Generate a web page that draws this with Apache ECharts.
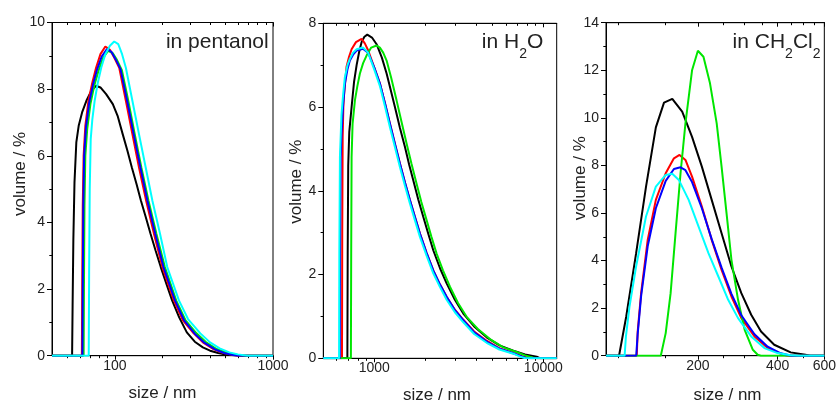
<!DOCTYPE html>
<html><head><meta charset="utf-8">
<script src="https://cdn.jsdelivr.net/npm/echarts@6/dist/echarts.min.js"></script>
<style>html,body{margin:0;padding:0;background:#fff}#c{width:839px;height:403px}</style>
</head><body><div id="c"></div><script>
// ---------- Panel 1: in pentanol ----------
const P1_X_MAJOR = [100, 1000];
const P1_X_MINOR = [50, 60, 70, 80, 90, 200, 300, 400, 500, 600, 700, 800, 900];
const P1_BLACK = [[40,0],[53.6,0],[54,1.5],[54.6,3.5],[55.5,5.2],[57,6.4],[59,6.9],[62,7.3],[66,7.65],[71,7.95],[76,8.1],[81,8.05],[88,7.85],[97,7.55],[104,7.2],[112,6.65],[120,6.15],[128,5.65],[137,5.15],[146,4.66],[157,4.15],[168,3.66],[181,3.15],[195,2.66],[212,2.15],[230,1.66],[255,1.15],[285,0.7],[320,0.42],[360,0.25],[400,0.15],[450,0.08],[510,0.03],[580,0.01],[620,0],[1000,0]];
const P1_RED = [[40,0],[61.8,0],[62.1,2],[62.6,4.5],[63.4,6.0],[65,6.9],[68,7.65],[72,8.2],[76,8.64],[81,9.05],[87,9.28],[93,9.18],[99,8.95],[106.5,8.64],[117.3,7.65],[129,6.65],[142,5.65],[157.5,4.66],[176.6,3.66],[199.6,2.66],[236,1.66],[270,1.05],[315,0.67],[360,0.4],[420,0.2],[480,0.09],[550,0.03],[600,0],[1000,0]];
const P1_GREEN = [[40,0],[63.4,0],[63.7,2],[64.2,4.5],[65,6.0],[66.8,6.8],[70,7.55],[74,8.1],[78.5,8.53],[84,8.93],[90.5,9.15],[97,9.08],[103,8.88],[110.5,8.58],[121.5,7.65],[133.5,6.65],[147,5.65],[163,4.66],[183,3.66],[207,2.66],[244,1.66],[280,1.06],[327,0.68],[376,0.41],[440,0.2],[510,0.09],[590,0.03],[650,0],[1000,0]];
const P1_BLUE = [[40,0],[62.3,0],[62.6,2],[63.1,4.5],[63.9,6.0],[65.6,6.85],[68.8,7.6],[72.8,8.15],[77,8.58],[82.5,8.98],[89,9.2],[95,9.12],[101,8.9],[108.5,8.6],[119.5,7.65],[131.5,6.65],[145,5.65],[160.5,4.66],[180,3.66],[203,2.66],[240,1.66],[275,1.05],[320,0.66],[368,0.39],[430,0.19],[490,0.08],[560,0.02],[600,0],[1000,0]];
const P1_CYAN = [[40,0],[68.3,0],[68.7,2.5],[69.3,5.0],[70.3,6.5],[72,7.1],[74.5,7.66],[78,8.2],[82,8.65],[87,9.05],[93,9.3],[99,9.43],[105,9.35],[111,9.05],[117.3,8.64],[129,7.65],[142,6.65],[156.6,5.65],[172.5,4.66],[192.9,3.66],[214.3,2.66],[254,1.66],[290,1.1],[347,0.67],[400,0.4],[460,0.22],[530,0.1],[600,0.04],[690,0],[1000,0]];

// ---------- Panel 2: in H2O ----------
const P2_X_MAJOR = [1000, 10000];
const P2_X_MINOR = [600, 700, 800, 900, 2000, 3000, 4000, 5000, 6000, 7000, 8000, 9000];
const P2_BLACK = [[500,0],[694,0],[697,2.5],[702,4.6],[712,5.4],[735,6.0],[760,6.6],[787,7.0],[815,7.32],[842,7.55],[875,7.68],[910,7.73],[970,7.66],[1033,7.5],[1110,7.18],[1184,6.8],[1250,6.42],[1326,6.0],[1420,5.5],[1519,5.05],[1610,4.62],[1702,4.25],[1820,3.8],[1950,3.38],[2090,2.97],[2235,2.58],[2450,2.15],[2681,1.79],[3000,1.4],[3364,1.07],[3900,0.76],[4622,0.5],[5500,0.31],[6646,0.18],[7800,0.09],[9138,0.04],[9600,0],[12000,0]];
const P2_RED = [[500,0],[645,0],[647,3],[651,5.3],[657,6.0],[662,6.24],[686,6.96],[710,7.2],[735,7.38],[780,7.55],[842,7.63],[880,7.52],[922,7.35],[1000,6.95],[1081,6.56],[1160,6.08],[1239,5.6],[1330,5.1],[1419,4.65],[1520,4.2],[1626,3.78],[1740,3.38],[1864,2.98],[2040,2.52],[2235,2.1],[2450,1.76],[2681,1.47],[3000,1.16],[3364,0.92],[3900,0.64],[4622,0.42],[5500,0.24],[6646,0.12],[7500,0.05],[8200,0.01],[8500,0],[12000,0]];
const P2_GREEN = [[500,0],[728,0],[731,2.5],[735,4.8],[745,5.6],[769,6.16],[795,6.5],[823,6.8],[860,7.05],[901,7.23],[960,7.42],[1033,7.47],[1080,7.42],[1130,7.3],[1184,7.11],[1260,6.7],[1356,6.16],[1450,5.65],[1554,5.13],[1660,4.65],[1781,4.17],[1900,3.73],[2041,3.3],[2180,2.9],[2339,2.5],[2550,2.1],[2805,1.71],[3130,1.32],[3520,0.99],[4100,0.7],[4837,0.46],[5800,0.26],[6957,0.15],[7800,0.07],[8600,0.02],[9000,0],[12000,0]];
const P2_BLUE = [[500,0],[626,0],[628,2.5],[633,4.8],[641,5.37],[655,6.05],[671,6.56],[695,6.9],[718,7.11],[750,7.25],[787,7.35],[861,7.39],[920,7.3],[1000,6.95],[1081,6.56],[1160,6.08],[1239,5.6],[1330,5.1],[1419,4.65],[1520,4.2],[1626,3.78],[1740,3.38],[1864,2.98],[2040,2.52],[2235,2.1],[2450,1.76],[2681,1.47],[3000,1.15],[3364,0.91],[3900,0.62],[4622,0.4],[5500,0.23],[6646,0.12],[7500,0.04],[8000,0],[12000,0]];
const P2_CYAN = [[500,0],[620,0],[622,2.5],[627,4.8],[640,5.8],[655,6.3],[670,6.7],[695,7.0],[718,7.15],[750,7.3],[787,7.38],[861,7.42],[920,7.3],[1000,6.9],[1081,6.5],[1160,6.0],[1239,5.52],[1330,5.02],[1419,4.57],[1520,4.12],[1626,3.7],[1740,3.3],[1864,2.9],[2040,2.45],[2235,2.03],[2450,1.7],[2681,1.4],[3000,1.1],[3364,0.86],[3900,0.58],[4622,0.37],[5500,0.21],[6646,0.11],[7300,0.04],[7800,0],[12000,0]];

// ---------- Panel 3: in CH2Cl2 ----------
const P3_X_MAJOR = [200, 400, 600];
const P3_X_MINOR = [100, 150, 250, 300, 500];
const P3_X_MINOR_TOP = [100, 150, 250, 300, 350, 450, 500, 550];
const P3_BLACK = [[90,0],[100.8,0],[107.3,1.65],[116.9,4.3],[127.4,7.1],[138.8,9.6],[149,10.64],[160.1,10.8],[174.5,10.26],[190.1,9.2],[207,7.95],[225.5,6.55],[245.7,5.15],[267.7,3.75],[291.7,2.63],[317.8,1.72],[346.2,1.02],[388.2,0.46],[447.8,0.14],[509.3,0.04],[530,0],[600,0]];
const P3_RED = [[90,0],[117.6,0],[118.5,1.0],[122.1,2.63],[129.3,4.87],[138.8,6.55],[151.2,7.67],[162.4,8.3],[170.5,8.44],[179.5,8.23],[190.1,7.53],[207,6.27],[225.5,4.87],[245.7,3.61],[267.7,2.49],[291.7,1.58],[327,0.81],[366.7,0.32],[411,0.08],[435,0],[600,0]];
const P3_GREEN = [[90,0],[144.9,0],[151.2,0.95],[157.8,2.63],[164.7,5.15],[172,7.67],[179.5,9.77],[190.1,12.0],[200,12.82],[209.9,12.57],[222.2,11.45],[235.5,9.77],[245.7,7.95],[256.5,5.99],[267.7,4.03],[283.5,2.35],[300.3,1.09],[322.4,0.25],[336.3,0.04],[346,0],[600,0]];
const P3_BLUE = [[90,0],[117,0],[118.5,0.9],[122.1,2.5],[129.3,4.6],[138.8,6.2],[151.2,7.35],[162.4,7.85],[172,7.92],[179.5,7.8],[190.1,7.3],[207,6.2],[225.5,4.9],[245.7,3.7],[267.7,2.6],[291.7,1.7],[327,0.9],[366.7,0.38],[411,0.1],[450,0],[600,0]];
const P3_CYAN = [[90,0],[105.8,0],[107,0.8],[110.4,2.07],[116.9,3.75],[127.4,5.85],[138.8,7.11],[151.2,7.6],[160.1,7.65],[169.5,7.39],[184.6,6.55],[201.2,5.43],[219.2,4.31],[238.9,3.33],[260.2,2.35],[283.5,1.58],[317.8,0.81],[356.4,0.32],[399.5,0.11],[447.8,0.02],[480,0],[600,0]];

const FONT = '"Liberation Sans", Arial, sans-serif';
const TXT = '#222222';
const COLORS = ['#000000', '#ff0000', '#00e600', '#0000ff', '#00ffff'];

const panels = [
  {grid: {left: 52, top: 22.5, width: 221, height: 333.2}, xMin: 40, xMax: 1000, yMax: 10,
   xMajor: P1_X_MAJOR, xMinor: P1_X_MINOR, xMinorTop: P1_X_MINOR,
   series: [P1_BLACK, P1_RED, P1_GREEN, P1_BLUE, P1_CYAN]},
  {grid: {left: 323.3, top: 23.3, width: 233.4, height: 335}, xMin: 500, xMax: 12000, yMax: 8,
   xMajor: P2_X_MAJOR, xMinor: P2_X_MINOR, xMinorTop: P2_X_MINOR,
   series: [P2_BLACK, P2_RED, P2_GREEN, P2_BLUE, P2_CYAN]},
  {grid: {left: 606, top: 22.7, width: 221.5, height: 333}, xMin: 90, xMax: 600, yMax: 14,
   xMajor: P3_X_MAJOR, xMinor: P3_X_MINOR, xMinorTop: P3_X_MINOR_TOP,
   series: [P3_BLACK, P3_RED, P3_GREEN, P3_BLUE, P3_CYAN]}
];

const option = {animation: false, backgroundColor: '#ffffff', grid: [], xAxis: [], yAxis: [], series: [], graphic: []};
const line = {color: '#000', width: 1};
panels.forEach((p, i) => {
  option.grid.push(Object.assign({show: true, borderColor: '#000', borderWidth: 1, backgroundColor: 'transparent'}, p.grid));
  const base = () => ({type: 'log', logBase: 10, min: p.xMin, max: p.xMax, gridIndex: i,
    splitLine: {show: false}, axisLine: {show: true, onZero: false, lineStyle: line}});
  option.xAxis.push(Object.assign(base(), {position: 'bottom',
    axisTick: {show: true, length: 4, inside: false, customValues: p.xMajor, lineStyle: line},
    axisLabel: {show: true, customValues: p.xMajor, formatter: v => String(Math.round(v)),
      fontSize: 14, color: TXT, fontFamily: FONT, margin: 3}}));
  option.xAxis.push(Object.assign(base(), {position: 'bottom',
    axisTick: {show: true, length: 2.5, inside: false, customValues: p.xMinor, lineStyle: line},
    axisLabel: {show: false}}));
  option.xAxis.push(Object.assign(base(), {position: 'top',
    axisTick: {show: true, length: 4, inside: true, customValues: p.xMajor, lineStyle: line},
    axisLabel: {show: false}}));
  option.xAxis.push(Object.assign(base(), {position: 'top',
    axisTick: {show: true, length: 2.5, inside: true, customValues: p.xMinorTop, lineStyle: line},
    axisLabel: {show: false}}));
  option.yAxis.push({type: 'value', gridIndex: i, min: 0, max: p.yMax, interval: 2, position: 'left',
    axisLine: {show: true, onZero: false, lineStyle: line},
    axisTick: {show: true, length: 5, inside: false, lineStyle: line},
    minorTick: {show: true, splitNumber: 2, length: 2.7, lineStyle: line},
    splitLine: {show: false}, minorSplitLine: {show: false},
    axisLabel: {fontSize: 14, color: TXT, fontFamily: FONT, margin: 7}});
  p.series.forEach((d, k) => {
    option.series.push({type: 'line', xAxisIndex: i * 4, yAxisIndex: i, data: d,
      showSymbol: false, symbol: 'none', smooth: false, clip: true, z: 2 + k,
      lineStyle: {color: COLORS[k], width: 2}, itemStyle: {color: COLORS[k]}});
  });
});

const titleFont = '21px ' + FONT;
const rich = {
  a: {fontSize: 21, lineHeight: 22, fontFamily: FONT, color: TXT, verticalAlign: 'top'},
  s: {fontSize: 14, lineHeight: 14, fontFamily: FONT, color: TXT, verticalAlign: 'top', padding: [15, 0, 0, 0]}
};
function title(x, txt) {
  return {type: 'text', x: x, y: 31.7, z: 100,
    style: {text: txt, rich: rich, align: 'right', textAlign: 'right', verticalAlign: 'top', textVerticalAlign: 'top', fill: TXT, font: titleFont}};
}
option.graphic.push(title(268.7, '{a|in pentanol}'));
option.graphic.push(title(543.3, '{a|in H}{s|2}{a|O}'));
option.graphic.push(title(820.5, '{a|in CH}{s|2}{a|Cl}{s|2}'));

const nameFont = '17px ' + FONT;
function yName(x, y) {
  return {type: 'text', x: x, y: y, rotation: Math.PI / 2, z: 100,
    style: {text: 'volume / %', font: nameFont, fill: TXT, align: 'center', textAlign: 'center', verticalAlign: 'middle', textVerticalAlign: 'middle'}};
}
function xName(x, y) {
  return {type: 'text', x: x, y: y, z: 100,
    style: {text: 'size / nm', font: nameFont, fill: TXT, align: 'center', textAlign: 'center', verticalAlign: 'middle', textVerticalAlign: 'middle'}};
}
option.graphic.push(yName(20, 174), yName(296, 181.7), yName(580.5, 178.3));
option.graphic.push(xName(162.5, 393), xName(437, 395.5), xName(727.5, 395.5));

const chart = echarts.init(document.getElementById('c'), null, {renderer: 'canvas'});
chart.setOption(option);
</script></body></html>
